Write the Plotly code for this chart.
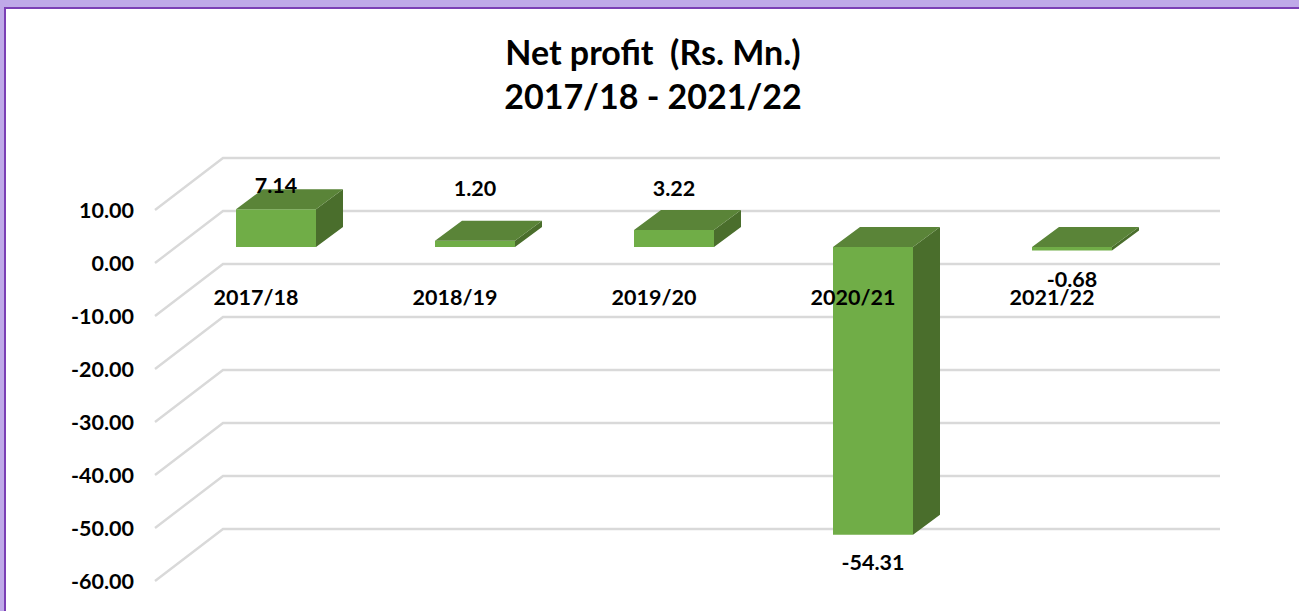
import plotly.graph_objects as go

# ---- data ----
categories = ["2017/18", "2018/19", "2019/20", "2020/21", "2021/22"]
net_profit = [7.14, 1.20, 3.22, -54.31, -0.68]
y_ticks = [10, 0, -10, -20, -30, -40, -50, -60]
title_lines = ["Net profit  (Rs. Mn.)", "2017/18 - 2021/22"]

# ---- layout constants (pixels on the 1299x611 page) ----
W, H = 1299, 611
PX_PER_CAT = 199.0
PX_PER_UNIT = 5.3
BAR_W_PX = 80
DEPTH_X, DEPTH_Y = 27, 20           # bar depth
WALL_X0, WALL_X1, WALL_XB = 155, 1220, 223
GRID_FRONT, GRID_BACK = 0, 52       # grid offset from tick-label centre
BAR_ZERO_PX, BAR_CX_PX = 247, 276
TICK_ZERO_PX, CAT_CX_PX = 263, 256
LABEL_OFFSET_PX = [22, 50, 39.5, -30, -31]

FRONT, TOP, SIDE = "#70AD47", "#5A8438", "#4A6E2C"
GRID = "#D9D9D9"
FONT = "Lato"
TEXT_SIZE = 21.5

dx = DEPTH_X / PX_PER_CAT
dy = DEPTH_Y / PX_PER_UNIT
half = BAR_W_PX / PX_PER_CAT / 2

fig = go.Figure()

# grid: wall lines on the main subplot
gx, gy = [], []
for t in y_ticks:
    gx += [(WALL_X0 - CAT_CX_PX) / PX_PER_CAT, (WALL_XB - CAT_CX_PX) / PX_PER_CAT,
           (WALL_X1 - CAT_CX_PX) / PX_PER_CAT, None]
    gy += [t + GRID_FRONT / PX_PER_UNIT, t + GRID_BACK / PX_PER_UNIT,
           t + GRID_BACK / PX_PER_UNIT, None]
fig.add_trace(go.Scatter(x=gx, y=gy, mode="lines", line=dict(color=GRID, width=2.4),
                         hoverinfo="skip", showlegend=False))

# side and top faces, from the values
idx = list(range(len(categories)))
sx, sy, tx, ty = [], [], [], []
for i, v in zip(idx, net_profit):
    hi, lo = max(v, 0), min(v, 0)
    sx += [i + half, i + half + dx, i + half + dx, i + half, i + half, None]
    sy += [hi, hi + dy, lo + dy, lo, hi, None]
    tx += [i - half, i - half + dx, i + half + dx, i + half, i - half, None]
    ty += [hi, hi + dy, hi + dy, hi, hi, None]
fig.add_trace(go.Bar(x=idx, y=net_profit, width=2 * half, marker=dict(color=FRONT, line=dict(width=0)),
                     xaxis="x2", yaxis="y2", hoverinfo="skip", showlegend=False))
fig.add_trace(go.Scatter(x=sx, y=sy, mode="lines", fill="toself", fillcolor=SIDE, line=dict(width=0, color=SIDE),
                         xaxis="x2", yaxis="y2", hoverinfo="skip", showlegend=False))
fig.add_trace(go.Scatter(x=tx, y=ty, mode="lines", fill="toself", fillcolor=TOP, line=dict(width=0, color=TOP),
                         xaxis="x2", yaxis="y2", hoverinfo="skip", showlegend=False))

# data labels
fig.add_trace(go.Scatter(
    x=idx,
    y=[v + o / PX_PER_UNIT for v, o in zip(net_profit, LABEL_OFFSET_PX)],
    mode="text", text=[f"{v:.2f}" for v in net_profit], textposition="middle center",
    textfont=dict(family=FONT, size=TEXT_SIZE, color="black", weight="bold"),
    xaxis="x2", yaxis="y2", hoverinfo="skip", showlegend=False, cliponaxis=False))


def xr(cx):
    return [-cx / PX_PER_CAT, (W - cx) / PX_PER_CAT]


def yr(zero):
    return [(zero - H) / PX_PER_UNIT, zero / PX_PER_UNIT]


fig.update_layout(
    width=W, height=H, autosize=False,
    margin=dict(l=0, r=0, t=0, b=0, pad=0),
    paper_bgcolor="#BFA9E8", plot_bgcolor="rgba(0,0,0,0)",
    showlegend=False, barmode="overlay",
    title=dict(text="<br>".join(title_lines), x=653 / W, xanchor="center", xref="paper",
               y=1 - 65 / H, yanchor="middle", yref="paper",
               font=dict(family=FONT, size=34, color="black", weight="bold")),
    xaxis=dict(range=xr(CAT_CX_PX), domain=[0, 1], anchor="free", position=1 - 282 / H,
               tickmode="array", tickvals=idx, ticktext=categories, ticks="", showgrid=False,
               zeroline=False, showline=False,
               tickfont=dict(family=FONT, size=TEXT_SIZE, color="black", weight="bold")),
    yaxis=dict(range=yr(TICK_ZERO_PX), domain=[0, 1], anchor="free", position=134 / W, side="left",
               tickmode="array", tickvals=y_ticks, ticktext=[f"{t:.2f}" for t in y_ticks], ticks="",
               showgrid=False, zeroline=False, showline=False,
               tickfont=dict(family=FONT, size=TEXT_SIZE, color="black", weight="bold")),
    xaxis2=dict(range=xr(BAR_CX_PX), overlaying="x", visible=False, anchor="y2"),
    yaxis2=dict(range=yr(BAR_ZERO_PX), overlaying="y", visible=False, anchor="x2"),
    shapes=[
        dict(type="rect", xref="paper", yref="paper", layer="below", x0=4 / W, x1=1, y0=0, y1=1 - 7 / H,
             fillcolor="#7B3FB5", line=dict(width=0)),
        dict(type="rect", xref="paper", yref="paper", layer="below", x0=6 / W, x1=1, y0=0, y1=1 - 9 / H,
             fillcolor="white", line=dict(width=0)),
    ],
)

fig.write_html("out.html", config={"displayModeBar": False},
               post_script="document.body.style.margin='0';document.documentElement.style.overflow='hidden';")
